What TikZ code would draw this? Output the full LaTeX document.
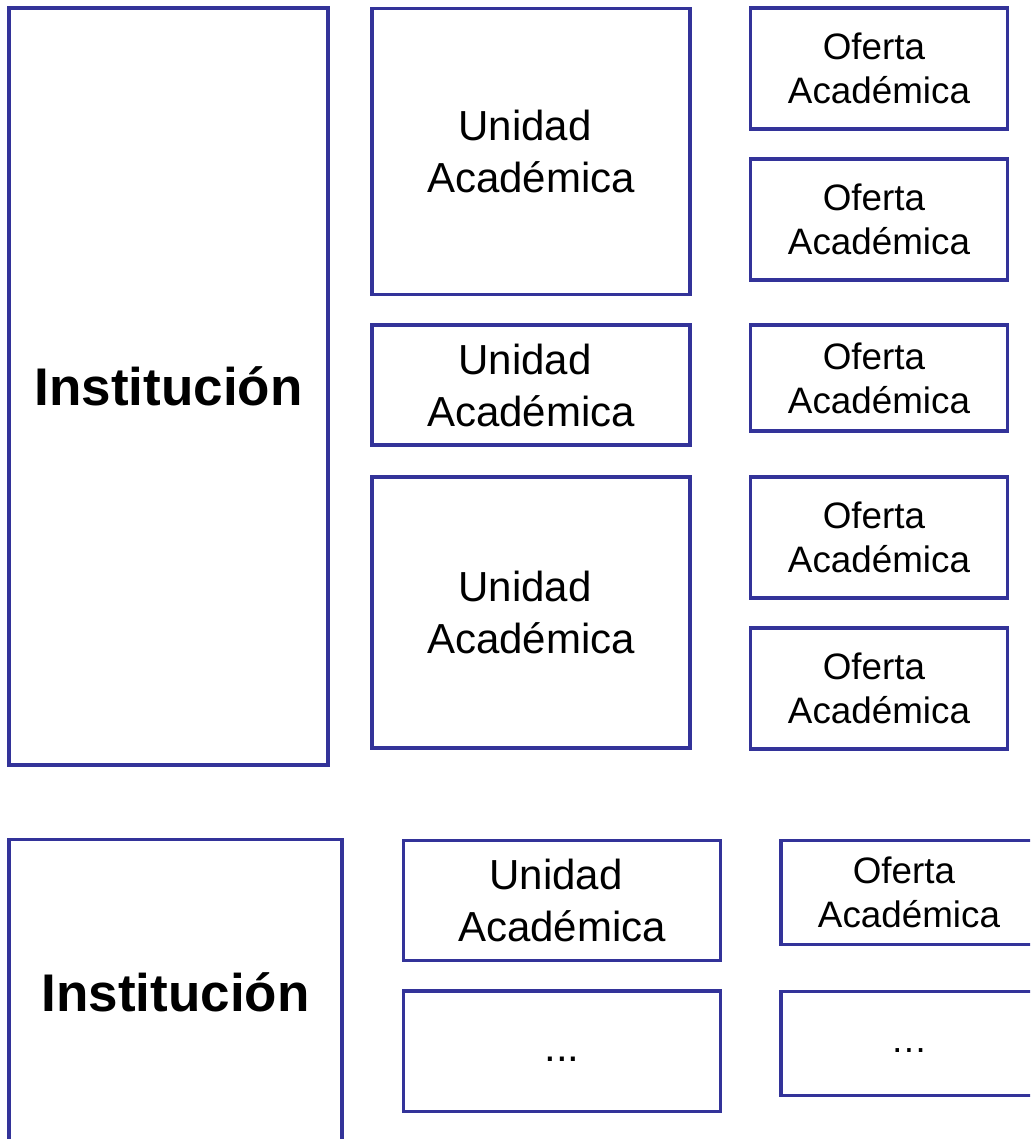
\documentclass[tikz,border=0pt]{standalone}
\usepackage{fontspec}
\setmainfont{Liberation Sans}
\usepackage{xcolor}
\definecolor{boxblue}{RGB}{51,51,153}
\newcommand{\tspace}{\hspace*{0.278em}}

\begin{document}
\begin{tikzpicture}[x=0.5pt,y=0.5pt,yscale=-1,
    box/.style={draw=boxblue, line width=1.75pt, rectangle, inner sep=0pt, outer sep=0pt, align=center},
    instbox/.style={box, minimum width=159.5pt, font=\fontsize{26.5}{32}\selectfont\bfseries},
    unitbox/.style={box, minimum width=159pt, font=\fontsize{21}{26}\selectfont},
    offerbox/.style={box, minimum width=128.5pt, font=\fontsize{18.4}{22}\selectfont}]
        %set diagram left start at 0, and has size of 1030 x 1139
        \clip (0,0) rectangle (1030,1139);

        %Shape: Rectangle [Institucion, top]
        \node[instbox, minimum height=378.5pt] (inst) at (168.5,386.5) {Institución};
        %Shape: Rectangle [Unidades]
        \node[unitbox, minimum height=143pt] (ua1) at (531,151.5) {Unidad\tspace\\Académica};
        \node[unitbox, minimum height=60pt] (ua2) at (531,385) {Unidad\tspace\\Académica};
        \node[unitbox, minimum height=135.5pt] (ua3) at (531,612.5) {Unidad\tspace\\Académica};
        %Shape: Rectangle [Ofertas]
        \node[offerbox, minimum height=60.5pt] (of1) at (879,68.5) {Oferta\tspace\\Académica};
        \node[offerbox, minimum height=60.5pt] (of2) at (879,219.5) {Oferta\tspace\\Académica};
        \node[offerbox, minimum height=52.8pt] (of3) at (879,378) {Oferta\tspace\\Académica};
        \node[offerbox, minimum height=60.5pt] (of4) at (879,537.5) {Oferta\tspace\\Académica};
        \node[offerbox, minimum height=60.5pt] (of5) at (879,688.5) {Oferta\tspace\\Académica};

        %Shape: Rectangle [Institucion, bottom]
        \node[instbox, minimum width=166.4pt, minimum height=152.7pt] (inst2) at (175.6,992) {Institución};
        \node[unitbox, minimum width=158.7pt, minimum height=60.2pt] (ua4) at (562,900.5) {Unidad\tspace\\Académica};
        \node[unitbox, minimum width=158.7pt, minimum height=60.2pt] (ua5) at (562,1051.2) {...\vphantom{Ag}};
        \node[offerbox, minimum width=128pt, minimum height=52.2pt] (of6) at (909,892.5) {Oferta\tspace\\Académica};
        \node[offerbox, minimum width=128pt, minimum height=52.2pt] (of7) at (909,1043.5) {…\vphantom{Ag}};

    \end{tikzpicture}
\end{document}
